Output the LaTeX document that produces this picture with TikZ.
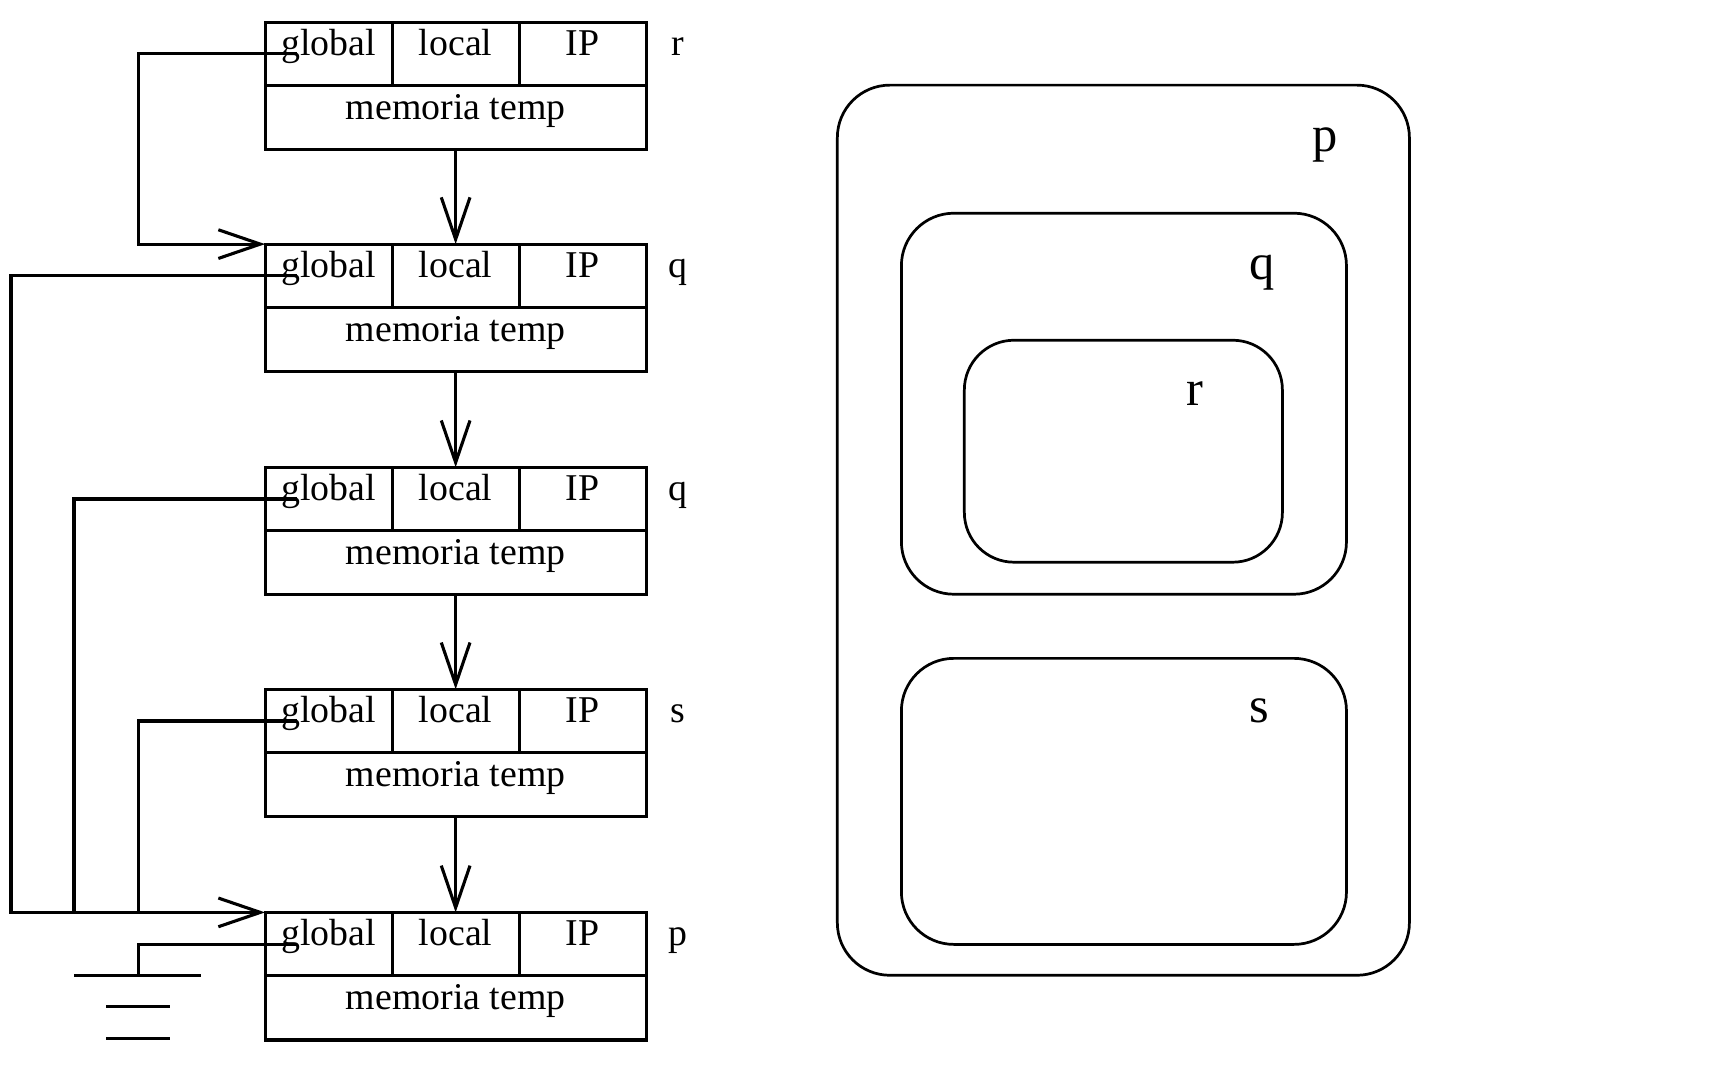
\documentclass[tikz,border=0pt]{standalone}
\usepackage{fontspec}
\setmainfont{Liberation Serif}
\usetikzlibrary{arrows.meta,calc}
\begin{document}
\begin{tikzpicture}[x=0.02cm,y=-0.02cm,
  every node/.style={inner sep=0pt, outer sep=0pt},
  txt/.style={font=\fontsize{19.5}{23}\selectfont},
  cell/.style={draw, line width=1.6pt, txt, minimum width=2.3cm, minimum height=1.15cm,
               text height=0.44cm, text depth=0.39cm},
  memcell/.style={cell, minimum width=6.9cm, minimum height=1.16cm},
  wire/.style={line width=1.6pt},
  arr/.style={wire, -{Straight Barb[length=0.76cm, width=0.52cm]}},
  region/.style={draw, line width=1.4pt, rounded corners=0.95cm},
  rlabel/.style={font=\fontsize{26}{30}\selectfont}
]
\useasboundingbox (0,0) rectangle (1568,982);

% activation records: global | local | IP over temporary memory
\foreach \i/\T/\lab in {1/20/r, 2/221/q, 3/423/q, 4/624/s, 5/826/p}{
  \node[cell] (g\i)  at (297.5,\T+28.75) {global};
  \node[cell] (l\i)  at (412.5,\T+28.75) {local};
  \node[cell] (ip\i) at (527.5,\T+28.75) {IP};
  \node[memcell] (m\i) at (412.5,\T+86.5) {memoria temp};
  \node[txt, anchor=base] (lab\i) at (614,\T+30) {\lab};
}

% dynamic chain: each record points to the next one down
\foreach \a/\b in {1/2, 2/3, 3/4, 4/5}{
  \draw[arr] (m\a.south) -- (l\b.north);
}

% static links (global pointers)
\coordinate (xa) at (10,0);
\coordinate (xb) at (67,0);
\coordinate (xc) at (125,0);
\draw[arr] ($(g1.west)+(29,0)$) -| (xc |- g2.north west) -- (g2.north west);
\draw[arr] ($(g2.west)+(29,0)$) -| (xa |- g5.north west) -- (g5.north west);
\draw[wire] ($(g3.west)+(29,0)$) -| (xb |- g5.north west);
\draw[wire] ($(g4.west)+(29,0)$) -| (xc |- g5.north west);

% p has no enclosing scope: ground symbol
\coordinate (gnd) at (125,883);
\draw[wire] ($(g5.west)+(29,0)$) -| (gnd);
\draw[wire] (67,883) -- (182,883);
\draw[wire] (96,911) -- (154,911);
\draw[wire] (96,940) -- (154,940);

% nesting of scopes
\node[region, minimum width=10.36cm, minimum height=16.12cm] (P) at (1017,480) {};
\node[region, minimum width=8.06cm, minimum height=6.9cm] (Q) at (1017.5,365.5) {};
\node[region, minimum width=5.76cm, minimum height=4.02cm, rounded corners=0.9cm] (R) at (1017,408.5) {};
\node[region, minimum width=8.06cm, minimum height=5.18cm] (S) at (1017.5,725.5) {};
\node[rlabel] (Pl) at (1200,131) {p};
\node[rlabel] (Ql) at (1143,247) {q};
\node[rlabel] (Rl) at (1082,356) {r};
\node[rlabel] (Sl) at (1140,644) {s};
\end{tikzpicture}
\end{document}
